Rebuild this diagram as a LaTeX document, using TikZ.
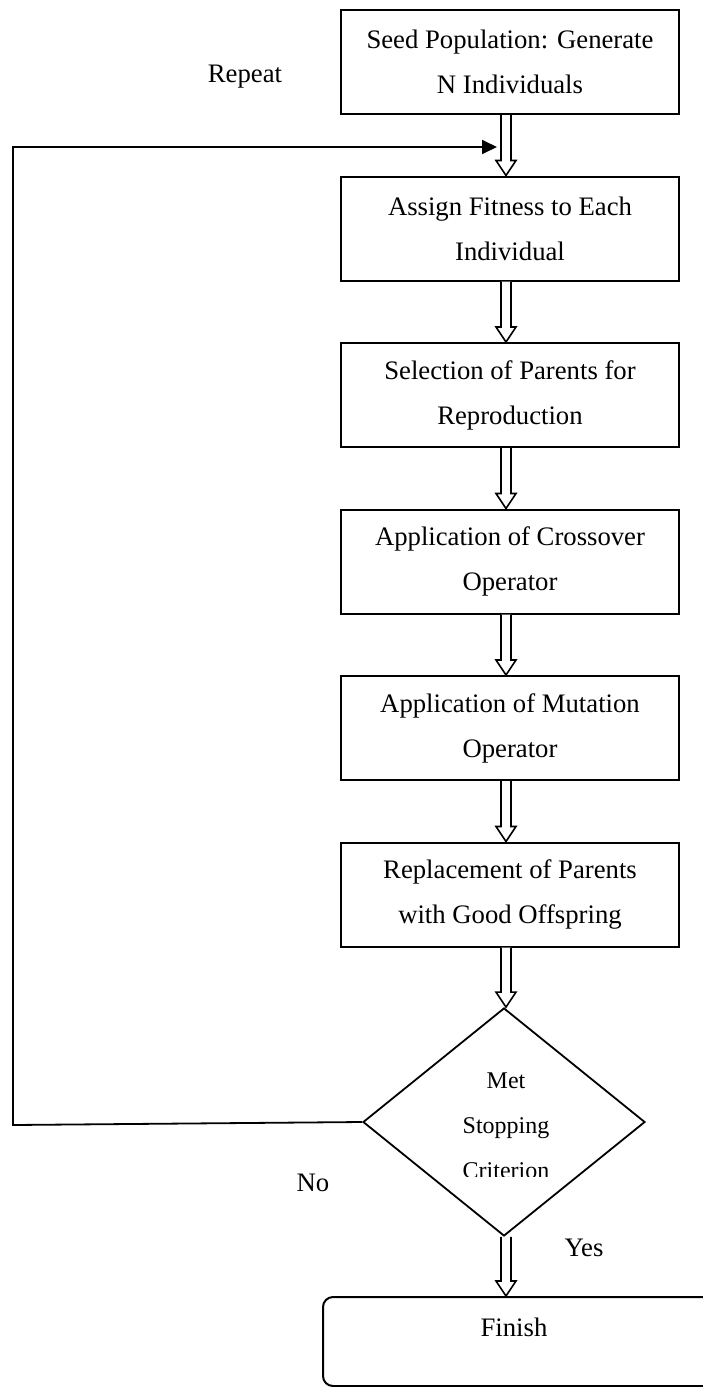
\documentclass[tikz,border=0pt]{standalone}
\usepackage{fontspec}
\setmainfont{Liberation Serif}
\usetikzlibrary{shapes.geometric,calc,arrows.meta}
\newcommand{\harrow}[2]{%
  \draw[hollow] ($(#1.south -| ax)+(-5,0)$) -- ($(#2.north -| ax)+(-5,-15)$)
    -- ($(#2.north -| ax)+(-10,-15)$) -- (#2.north -| ax)
    -- ($(#2.north -| ax)+(10,-15)$) -- ($(#2.north -| ax)+(5,-15)$)
    -- ($(#1.south -| ax)+(5,0)$);}
\begin{document}
\begin{tikzpicture}[x=1pt,y=-1pt,
  stepbox/.style={draw,line width=2pt,minimum width=338pt,minimum height=104pt,
    inner sep=0pt,align=center,font=\fontsize{26.7}{45}\selectfont},
  hollow/.style={draw,line width=1.6pt,fill=white,line join=miter},
  lbl/.style={font=\fontsize{26.7}{32}\selectfont,inner sep=0pt},
  conn/.style={line width=1.8pt}]
\useasboundingbox (0,0) rectangle (702,1387);
\coordinate (ax) at (506,0);
\node[stepbox] (b1) at (510,62) {Seed Population: Generate\\N Individuals};
\node[stepbox] (b2) at (510,228.5) {Assign Fitness to Each\\Individual};
\node[stepbox] (b3) at (510,395) {Selection of Parents for\\Reproduction};
\node[stepbox] (b4) at (510,561.5) {Application of Crossover\\Operator};
\node[stepbox] (b5) at (510,728) {Application of Mutation\\Operator};
\node[stepbox] (b6) at (510,894.5) {Replacement of Parents\\with Good Offspring};
\node[diamond,draw,line width=1.8pt,minimum width=282pt,minimum height=228pt,inner sep=0pt] (d) at (504,1122) {};
\begin{scope}
  \clip (363,1000) rectangle (645,1176);
  \node[align=center,inner sep=0pt,font=\fontsize{24}{45}\selectfont] (dt) at (506,1126) {Met\\Stopping\\Criterion};
\end{scope}
\node[draw,line width=2pt,rounded corners=10pt,minimum width=400pt,minimum height=89pt,inner sep=0pt] (fin) at (523,1341.5) {};
\node[lbl] (fint) at (514,1327) {Finish};
\harrow{b1}{b2}
\harrow{b2}{b3}
\harrow{b3}{b4}
\harrow{b4}{b5}
\harrow{b5}{b6}
\harrow{b6}{d}
\harrow{d}{fin}
\coordinate (ret) at (497,147);
\draw[conn,-{Triangle[length=15pt,width=14pt]}] (d.west) -- (13,1125) -- (13,147) -- (ret);
\node[lbl] (rep) at (245,77) {Repeat};
\node[lbl] (no) at (313,1183) {No};
\node[lbl] (yes) at (584,1248) {Yes};
\end{tikzpicture}
\end{document}
